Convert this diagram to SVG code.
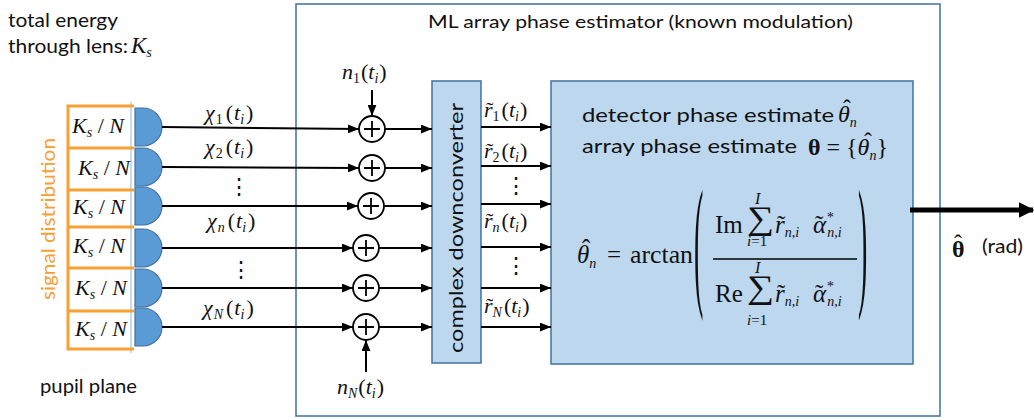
<svg xmlns="http://www.w3.org/2000/svg" width="1034" height="420" viewBox="0 0 1034 420">
  <style>
    .sans { font-family: "Lato", "Open Sans", "Liberation Sans", sans-serif; fill: #111; }
    .m { font-family: "Liberation Serif", "DejaVu Serif", serif; font-size: 22px; fill: #111; }
    .i { font-style: italic; }
    .sub { font-size: 14px; }
    .box { fill: #BDD7EE; stroke: #41719C; stroke-width: 1.5; }
    .frame { fill: none; stroke: #41719C; stroke-width: 1.5; }
    .det { fill: #5B9BD5; stroke: #41719C; stroke-width: 1.2; }
    .orange { fill: none; stroke: #F7A033; stroke-width: 3; }
    .wire { stroke: #000; stroke-width: 2; fill: none; }
    .sum { fill: #fff; stroke: #000; stroke-width: 1.8; }
  </style>
  <defs>
    <marker id="ah" viewBox="0 0 10 8" refX="10" refY="4" markerWidth="11" markerHeight="9" markerUnits="userSpaceOnUse" orient="auto">
      <path d="M0,0 L10,4 L0,8 Z" fill="#000"/>
    </marker>
    <marker id="ahBig" viewBox="0 0 10 10" refX="9" refY="5" markerWidth="16" markerHeight="16" markerUnits="userSpaceOnUse" orient="auto">
      <path d="M0,0 L10,5 L0,10 Z" fill="#000"/>
    </marker>
    <path id="dshape" d="M0,-19 H8 A19 19 0 0 1 8,19 H0 Z"/>
    <g id="adder">
      <circle r="13" class="sum"/>
      <path d="M-8,0 H8 M0,-8 V8" stroke="#000" stroke-width="1.8"/>
    </g>
  </defs>

  <!-- caption texts -->
  <g id="caption-energy">
    <text x="8" y="27" class="sans" style="font-size:19px" textLength="110" lengthAdjust="spacingAndGlyphs">total energy</text>
    <text x="8" y="53" class="sans" style="font-size:19px" textLength="120" lengthAdjust="spacingAndGlyphs">through lens:</text>
    <text x="131" y="53" class="m i" style="font-size:23px">K<tspan class="sub" dy="4">s</tspan></text>
  </g>
  <g id="caption-pupil">
    <text x="40" y="393" class="sans" style="font-size:19px" textLength="97" lengthAdjust="spacingAndGlyphs">pupil plane</text>
  </g>

  <!-- estimator frame -->
  <g id="estimator-frame">
    <rect x="296" y="4" width="644" height="412" class="frame"/>
    <text x="428" y="28" class="sans" style="font-size:17px" textLength="425" lengthAdjust="spacingAndGlyphs">ML array phase estimator (known modulation)</text>
  </g>

  <!-- signal distribution -->
  <g id="signal-distribution">
    <line x1="131" y1="102" x2="131" y2="353" stroke="#9DC3E6" stroke-width="1.2"/>
    <path class="orange" d="M134,106 H68 V349 H134 M68,148 H134 M68,190 H134 M68,227 H134 M68,268 H134 M68,311 H134"/>
    <text transform="translate(55,219) rotate(-90)" text-anchor="middle" font-family="Lato, 'Open Sans', 'Liberation Sans', sans-serif" font-size="19" fill="#F7A033" textLength="162" lengthAdjust="spacingAndGlyphs">signal distribution</text>
    <g class="m">
      <text x="72" y="133"><tspan class="i">K</tspan><tspan class="sub i" dy="4">s</tspan><tspan dy="-4"> / </tspan><tspan class="i">N</tspan></text>
      <text x="78" y="175"><tspan class="i">K</tspan><tspan class="sub i" dy="4">s</tspan><tspan dy="-4"> / </tspan><tspan class="i">N</tspan></text>
      <text x="73" y="214"><tspan class="i">K</tspan><tspan class="sub i" dy="4">s</tspan><tspan dy="-4"> / </tspan><tspan class="i">N</tspan></text>
      <text x="73" y="253"><tspan class="i">K</tspan><tspan class="sub i" dy="4">s</tspan><tspan dy="-4"> / </tspan><tspan class="i">N</tspan></text>
      <text x="75" y="295"><tspan class="i">K</tspan><tspan class="sub i" dy="4">s</tspan><tspan dy="-4"> / </tspan><tspan class="i">N</tspan></text>
      <text x="75" y="336"><tspan class="i">K</tspan><tspan class="sub i" dy="4">s</tspan><tspan dy="-4"> / </tspan><tspan class="i">N</tspan></text>
    </g>
  </g>

  <!-- detectors -->
  <g id="detectors">
    <use href="#dshape" x="135" y="127" class="det"/>
    <use href="#dshape" x="135" y="167" class="det"/>
    <use href="#dshape" x="135" y="206" class="det"/>
    <use href="#dshape" x="135" y="248" class="det"/>
    <use href="#dshape" x="135" y="288" class="det"/>
    <use href="#dshape" x="135" y="327" class="det"/>
  </g>

  <!-- noise adders -->
  <g id="adders">
    <use href="#adder" x="372" y="129"/>
    <use href="#adder" x="372" y="168"/>
    <use href="#adder" x="371" y="206"/>
    <use href="#adder" x="366" y="248"/>
    <use href="#adder" x="366" y="288"/>
    <use href="#adder" x="366" y="327"/>
  </g>

  <!-- complex downconverter -->
  <g id="downconverter">
    <rect x="432" y="81" width="49" height="282" class="box"/>
    <text transform="translate(463,228) rotate(-90)" text-anchor="middle" class="sans" style="font-size:20px" textLength="250" lengthAdjust="spacingAndGlyphs">complex downconverter</text>
  </g>

  <!-- phase estimate block -->
  <g id="phase-estimator">
    <rect x="551" y="81" width="362" height="283" class="box"/>
    <text x="582" y="122" class="sans" style="font-size:20px" textLength="252" lengthAdjust="spacingAndGlyphs">detector phase estimate</text>
    <text x="838" y="122" class="m i" style="font-size:24px">θ<tspan class="sub" dy="5">n</tspan></text>
    <text x="843" y="116" class="m" style="font-size:24px">ˆ</text>
    <text x="582" y="153" class="sans" style="font-size:20px" textLength="215" lengthAdjust="spacingAndGlyphs">array phase estimate</text>
    <text x="808" y="155" class="m" style="font-size:24px"><tspan font-weight="bold">θ</tspan> = {<tspan class="i">θ</tspan><tspan class="sub i" dy="5">n</tspan><tspan dy="-5">}</tspan></text>
    <text x="864" y="149" class="m" style="font-size:24px">ˆ</text>

    <!-- arctan formula -->
    <text x="577" y="263" class="m i" style="font-size:25px">θ<tspan class="sub" dy="5">n</tspan></text>
    <text x="582" y="257" class="m" style="font-size:25px">ˆ</text>
    <text x="607" y="263" class="m" style="font-size:25px">=</text>
    <text x="630" y="263" class="m" style="font-size:25px" textLength="63" lengthAdjust="spacingAndGlyphs">arctan</text>
    <text transform="translate(694,290) scale(1,5.15)" class="m" style="font-size:28px">(</text>
    <text transform="translate(858,290) scale(1,5.15)" class="m" style="font-size:28px">)</text>
    <line x1="713" y1="259" x2="857" y2="259" stroke="#000" stroke-width="1.5"/>

    <text x="715" y="233" class="m" style="font-size:25px">Im</text>
    <text transform="translate(747,229) scale(1.15,1)" class="m" style="font-size:33px">∑</text>
    <text x="755" y="204" class="m i" style="font-size:16px">I</text>
    <text x="747" y="246" class="m" style="font-size:15px"><tspan class="i">i</tspan>=1</text>
    <text x="775" y="233" class="m i" style="font-size:25px">r<tspan class="sub" dy="4">n,i</tspan></text>
    <text x="777" y="233" class="m" style="font-size:25px">˜</text>
    <text x="813" y="233" class="m i" style="font-size:25px">α<tspan class="sub" dy="-11">*</tspan><tspan class="sub" dx="-6" dy="15">n,i</tspan></text>
    <text x="815" y="233" class="m" style="font-size:25px">˜</text>

    <text x="715" y="302" class="m" style="font-size:25px">Re</text>
    <text transform="translate(747,298) scale(1.15,1)" class="m" style="font-size:33px">∑</text>
    <text x="755" y="273" class="m i" style="font-size:16px">I</text>
    <text x="747" y="325" class="m" style="font-size:15px"><tspan class="i">i</tspan>=1</text>
    <text x="775" y="302" class="m i" style="font-size:25px">r<tspan class="sub" dy="4">n,i</tspan></text>
    <text x="777" y="302" class="m" style="font-size:25px">˜</text>
    <text x="813" y="302" class="m i" style="font-size:25px">α<tspan class="sub" dy="-11">*</tspan><tspan class="sub" dx="-6" dy="15">n,i</tspan></text>
    <text x="815" y="302" class="m" style="font-size:25px">˜</text>
  </g>

  <!-- output label -->
  <g id="output-label">
    <text x="952" y="257" class="m" style="font-size:24px" font-weight="bold">θ</text>
    <text x="954" y="251" class="m" style="font-size:24px">ˆ</text>
    <text x="982" y="253" class="sans" style="font-size:19px" textLength="41" lengthAdjust="spacingAndGlyphs">(rad)</text>
  </g>

  <!-- connectors -->
  <g id="connectors" class="wire">
    <line x1="162" y1="127" x2="359" y2="129" marker-end="url(#ah)"/>
    <line x1="162" y1="167" x2="359" y2="168" marker-end="url(#ah)"/>
    <line x1="162" y1="206" x2="358" y2="206" marker-end="url(#ah)"/>
    <line x1="162" y1="248" x2="353" y2="248" marker-end="url(#ah)"/>
    <line x1="162" y1="288" x2="353" y2="288" marker-end="url(#ah)"/>
    <line x1="162" y1="327" x2="353" y2="327" marker-end="url(#ah)"/>

    <line x1="385" y1="129" x2="432" y2="129" marker-end="url(#ah)"/>
    <line x1="385" y1="168" x2="432" y2="168" marker-end="url(#ah)"/>
    <line x1="384" y1="206" x2="432" y2="206" marker-end="url(#ah)"/>
    <line x1="379" y1="248" x2="432" y2="248" marker-end="url(#ah)"/>
    <line x1="379" y1="288" x2="432" y2="288" marker-end="url(#ah)"/>
    <line x1="379" y1="327" x2="432" y2="327" marker-end="url(#ah)"/>

    <line x1="481" y1="127" x2="551" y2="127" marker-end="url(#ah)"/>
    <line x1="481" y1="166" x2="551" y2="166" marker-end="url(#ah)"/>
    <line x1="481" y1="204" x2="551" y2="204" marker-end="url(#ah)"/>
    <line x1="481" y1="247" x2="551" y2="247" marker-end="url(#ah)"/>
    <line x1="481" y1="288" x2="551" y2="288" marker-end="url(#ah)"/>
    <line x1="481" y1="327" x2="551" y2="327" marker-end="url(#ah)"/>

    <line x1="372" y1="90" x2="372" y2="116" marker-end="url(#ah)"/>
    <line x1="366" y1="372" x2="366" y2="340" marker-end="url(#ah)"/>

    <line x1="910" y1="210" x2="1033" y2="210" stroke-width="5" marker-end="url(#ahBig)"/>
  </g>

  <!-- signal labels -->
  <g id="signal-labels" class="m">
    <text x="205" y="120"><tspan class="i">χ</tspan><tspan class="sub" dx="1" dy="4">1</tspan><tspan dx="3" dy="-4">(</tspan><tspan class="i" dx="1">t</tspan><tspan class="sub i" dy="4">i</tspan><tspan dx="2" dy="-4">)</tspan></text>
    <text x="205" y="154"><tspan class="i">χ</tspan><tspan class="sub" dx="1" dy="4">2</tspan><tspan dx="3" dy="-4">(</tspan><tspan class="i" dx="1">t</tspan><tspan class="sub i" dy="4">i</tspan><tspan dx="2" dy="-4">)</tspan></text>
    <text x="228" y="194">⋮</text>
    <text x="207" y="228"><tspan class="i">χ</tspan><tspan class="sub i" dx="1" dy="4">n</tspan><tspan dx="3" dy="-4">(</tspan><tspan class="i" dx="1">t</tspan><tspan class="sub i" dy="4">i</tspan><tspan dx="2" dy="-4">)</tspan></text>
    <text x="230" y="277">⋮</text>
    <text x="203" y="315"><tspan class="i">χ</tspan><tspan class="sub i" dx="1" dy="4">N</tspan><tspan dx="3" dy="-4">(</tspan><tspan class="i" dx="1">t</tspan><tspan class="sub i" dy="4">i</tspan><tspan dx="2" dy="-4">)</tspan></text>

    <text x="342" y="79"><tspan class="i">n</tspan><tspan class="sub" dy="4">1</tspan><tspan dx="1" dy="-4">(</tspan><tspan class="i">t</tspan><tspan class="sub i" dy="4">i</tspan><tspan dx="1" dy="-4">)</tspan></text>
    <text x="337" y="394"><tspan class="i">n</tspan><tspan class="sub i" dy="4">N</tspan><tspan dx="1" dy="-4">(</tspan><tspan class="i">t</tspan><tspan class="sub i" dy="4">i</tspan><tspan dx="1" dy="-4">)</tspan></text>

    <text x="484" y="117"><tspan class="i">r</tspan><tspan class="sub" dy="4">1</tspan><tspan dx="2" dy="-4">(</tspan><tspan class="i">t</tspan><tspan class="sub i" dy="4">i</tspan><tspan dx="1" dy="-4">)</tspan></text>
    <text x="486" y="117">˜</text>
    <text x="484" y="158"><tspan class="i">r</tspan><tspan class="sub" dy="4">2</tspan><tspan dx="2" dy="-4">(</tspan><tspan class="i">t</tspan><tspan class="sub i" dy="4">i</tspan><tspan dx="1" dy="-4">)</tspan></text>
    <text x="486" y="158">˜</text>
    <text x="505" y="193">⋮</text>
    <text x="484" y="228"><tspan class="i">r</tspan><tspan class="sub i" dy="4">n</tspan><tspan dx="2" dy="-4">(</tspan><tspan class="i">t</tspan><tspan class="sub i" dy="4">i</tspan><tspan dx="1" dy="-4">)</tspan></text>
    <text x="486" y="228">˜</text>
    <text x="505" y="273">⋮</text>
    <text x="484" y="313"><tspan class="i">r</tspan><tspan class="sub i" dy="4">N</tspan><tspan dx="2" dy="-4">(</tspan><tspan class="i">t</tspan><tspan class="sub i" dy="4">i</tspan><tspan dx="1" dy="-4">)</tspan></text>
    <text x="486" y="313">˜</text>
  </g>
</svg>
